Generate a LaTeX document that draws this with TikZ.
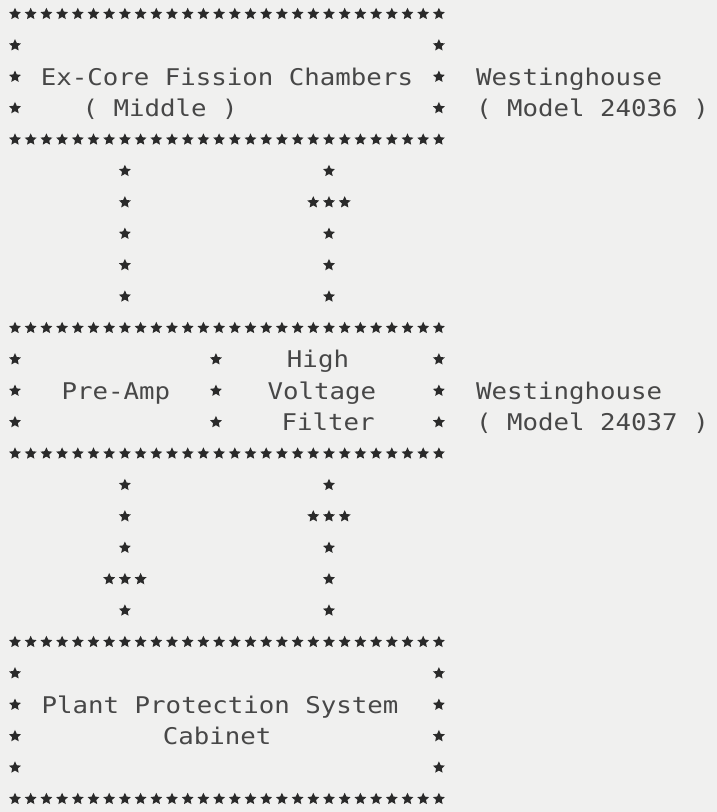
\documentclass[tikz,border=0pt]{standalone}
\usepackage{fontspec}
\usetikzlibrary{shapes.geometric}
\newfontfamily\typer[FakeStretch=1.12]{DejaVu Sans Mono}
\definecolor{Paper}{HTML}{F0F0EF}
\definecolor{Ink}{HTML}{2A2A2A}
\definecolor{TypeGray}{HTML}{474747}

\begin{document}
\begin{tikzpicture}[
    x=15.7pt, y=-31.4pt,
    ast/.style={star, star points=5, star point ratio=2.1, fill=Ink, minimum size=12.5pt, inner sep=0pt},
    txt/.style={font=\typer\fontsize{23}{28}\selectfont, text=TypeGray, inner sep=0pt, anchor=base},
    note/.style={txt, anchor=base west}
  ]
  \fill[Paper] (-0.955,-0.446) rectangle (44.713,25.414);
  % box borders
  \foreach \r in {0,4,10,14,20,25}
    \foreach \c in {0,...,27}
      \node[ast] (s\r-\c) at (\c,\r) {};
  \foreach \r in {1,2,3,11,12,13,21,22,23,24}
    \foreach \c in {0,27}
      \node[ast] (s\r-\c) at (\c,\r) {};
  \foreach \r in {11,12,13}
    \node[ast] (s\r-13) at (12.8,\r) {};
  % cable runs between the boxes
  \foreach \r in {5,6,7,8,9,15,16,17,18,19}
    \foreach \c in {7,20}
      \node[ast] (s\r-\c) at (\c,\r) {};
  \foreach \r/\c in {6/19,6/21,16/19,16/21,18/6,18/8}
    \node[ast] (s\r-\c) at (\c,\r) {};
  % labels
  \node[txt] (fc) at (13.5,2.27) {Ex-Core Fission Chambers};
  \node[txt] (mid) at (9.24,3.27) {( Middle )};
  \node[note] (w1) at (29.36,2.27) {Westinghouse};
  \node[note] (m1) at (29.36,3.27) {( Model 24036 )};
  \node[txt] (hi) at (19.3,11.27) {High};
  \node[txt] (pa) at (6.43,12.27) {Pre-Amp};
  \node[txt] (vo) at (19.55,12.27) {Voltage};
  \node[txt] (fi) at (19.94,13.27) {Filter};
  \node[note] (w2) at (29.36,12.27) {Westinghouse};
  \node[note] (m2) at (29.36,13.27) {( Model 24037 )};
  \node[txt] (pps) at (13.06,22.27) {Plant Protection System};
  \node[txt] (cab) at (12.87,23.27) {Cabinet};
\end{tikzpicture}
\end{document}
